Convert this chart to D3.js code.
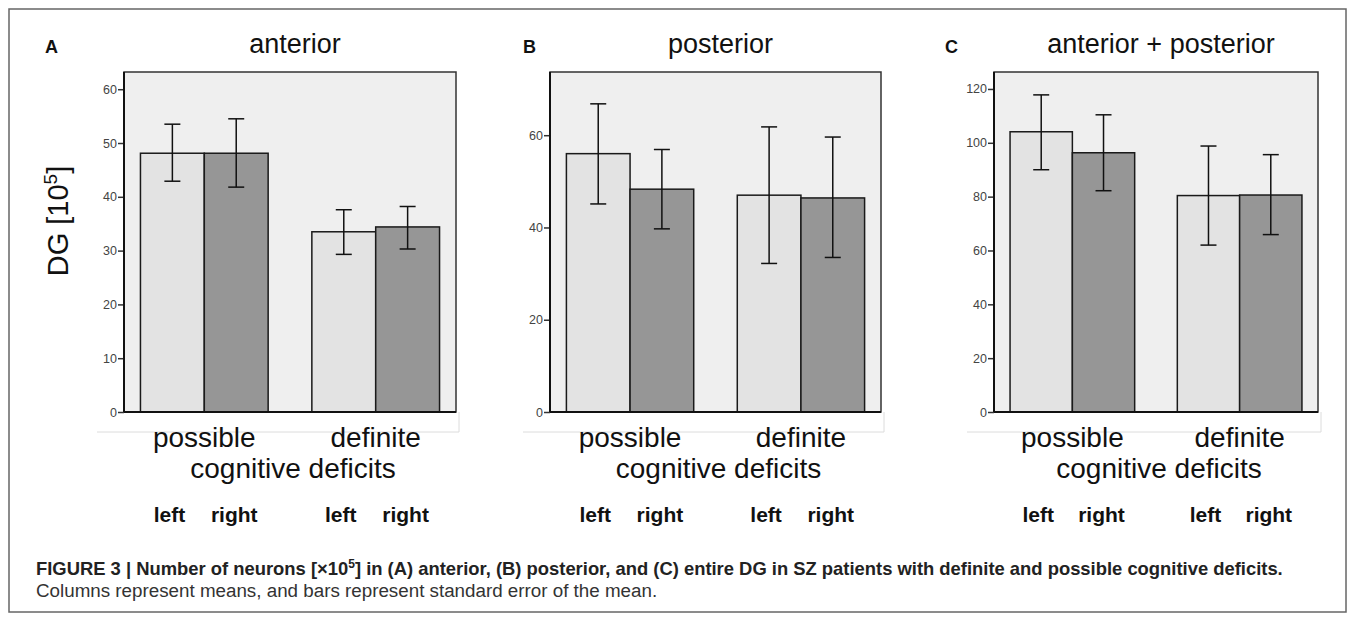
<!DOCTYPE html>
<html>
<head>
<meta charset="utf-8">
<script src="https://cdn.jsdelivr.net/npm/d3@7"></script>
<style>
  body { margin: 0; background: #fff; }
  text { font-family: "Liberation Sans", Arial, sans-serif; }
</style>
</head>
<body>
<div id="chart"></div>
<script>

// categories and groups
const categories = ["possible", "definite"];
const sides = ["left", "right"];
const panelTitles = ["anterior", "posterior", "anterior + posterior"];
const panelLetters = ["A", "B", "C"];

// means and error bar ends, order: possible-left, possible-right, definite-left, definite-right
const anteriorMean = [48.1, 48.1, 33.5, 34.4];
const anteriorLow = [42.9, 41.8, 29.3, 30.3];
const anteriorHigh = [53.5, 54.5, 37.6, 38.2];

const posteriorMean = [56.0, 48.3, 47.0, 46.4];
const posteriorLow = [45.1, 39.7, 32.2, 33.5];
const posteriorHigh = [66.8, 56.9, 61.8, 59.6];

const totalMean = [104.1, 96.3, 80.4, 80.6];
const totalLow = [90.0, 82.2, 62.0, 65.9];
const totalHigh = [117.8, 110.4, 98.8, 95.6];

// y axes
const yMax = [63.2, 73.7, 126.3];
const yTicks = [
  [0, 10, 20, 30, 40, 50, 60],
  [0, 20, 40, 60],
  [0, 20, 40, 60, 80, 100, 120]
];

const W = 1355, H = 624;
const plotTop = 72, plotBottom = 412;
const plotLeft = [124, 550, 994];
const plotRight = [456, 881, 1318];
const letterX = [45, 523, 945];

const barFill = { left: "#e3e3e3", right: "#969696" };

const svg = d3.select("#chart")
  .append("svg")
  .attr("width", W)
  .attr("height", H);

// figure frame
svg.append("rect")
  .attr("x", 9).attr("y", 9)
  .attr("width", 1337).attr("height", 603)
  .attr("fill", "none")
  .attr("stroke", "#666")
  .attr("stroke-width", 1.5);

const series = [
  { mean: anteriorMean, low: anteriorLow, high: anteriorHigh },
  { mean: posteriorMean, low: posteriorLow, high: posteriorHigh },
  { mean: totalMean, low: totalLow, high: totalHigh }
];

series.forEach(function (s, p) {
  const g = svg.append("g");
  const x0 = plotLeft[p], x1 = plotRight[p];

  let y = d3.scaleLinear().domain([0, yMax[p]]).range([plotBottom, plotTop]);
  let xCat = d3.scaleBand().domain(categories).range([x0, x1])
    .paddingInner(0.255).paddingOuter(0.096);
  let xSide = d3.scaleBand().domain(sides).range([0, xCat.bandwidth()]);

  // faint outer chart box
  g.append("path")
    .attr("d", "M" + (x0 - 27) + "," + 432 + "H" + (x1 + 3) + "V" + plotBottom)
    .attr("fill", "none")
    .attr("stroke", "#dcdcdc")
    .attr("stroke-width", 1);

  // plot background
  g.append("rect")
    .attr("x", x0).attr("y", plotTop)
    .attr("width", x1 - x0).attr("height", plotBottom - plotTop)
    .attr("fill", "#efefef")
    .attr("stroke", "#333")
    .attr("stroke-width", 1.5);

  const rows = [];
  categories.forEach(function (c, i) {
    sides.forEach(function (sd, j) {
      const k = i * 2 + j;
      rows.push({ cat: c, side: sd, mean: s.mean[k], low: s.low[k], high: s.high[k] });
    });
  });

  // bars
  g.selectAll("rect.bar")
    .data(rows)
    .enter()
    .append("rect")
    .attr("class", "bar")
    .attr("x", d => xCat(d.cat) + xSide(d.side))
    .attr("y", d => y(d.mean))
    .attr("width", xSide.bandwidth())
    .attr("height", d => y(0) - y(d.mean))
    .attr("fill", d => barFill[d.side])
    .attr("stroke", "#1a1a1a")
    .attr("stroke-width", 1.5);

  // error bars
  const cx = d => xCat(d.cat) + xSide(d.side) + xSide.bandwidth() / 2;
  const eb = g.selectAll("g.err").data(rows).enter().append("g").attr("class", "err")
    .attr("stroke", "#111").attr("stroke-width", 1.5);
  eb.append("line")
    .attr("x1", cx).attr("x2", cx)
    .attr("y1", d => y(d.low)).attr("y2", d => y(d.high));
  eb.append("line")
    .attr("x1", d => cx(d) - 8).attr("x2", d => cx(d) + 8)
    .attr("y1", d => y(d.high)).attr("y2", d => y(d.high));
  eb.append("line")
    .attr("x1", d => cx(d) - 8).attr("x2", d => cx(d) + 8)
    .attr("y1", d => y(d.low)).attr("y2", d => y(d.low));

  // y axis
  const ax = g.append("g")
    .attr("transform", "translate(" + x0 + ",0)")
    .call(d3.axisLeft(y).tickValues(yTicks[p]).tickSize(6).tickPadding(1).tickFormat(d3.format("d")));
  ax.select(".domain").remove();
  ax.selectAll(".tick line").attr("stroke", "#333").attr("stroke-width", 1.5);
  ax.selectAll(".tick text")
    .attr("fill", "#444")
    .style("font-size", "12.5px")
    .style("font-family", "'Liberation Sans', Arial, sans-serif");

  // axis lines
  g.append("line")
    .attr("x1", x0).attr("x2", x0).attr("y1", plotTop).attr("y2", plotBottom)
    .attr("stroke", "#111").attr("stroke-width", 2);
  g.append("line")
    .attr("x1", x0).attr("x2", x1).attr("y1", plotBottom).attr("y2", plotBottom)
    .attr("stroke", "#111").attr("stroke-width", 2);

  // category labels
  g.selectAll("text.cat")
    .data(categories)
    .enter()
    .append("text")
    .attr("class", "cat")
    .attr("x", d => xCat(d) + xCat.bandwidth() / 2)
    .attr("y", 447)
    .attr("text-anchor", "middle")
    .style("font-size", "28px")
    .attr("fill", "#111")
    .text(d => d);

  const mid = (xCat(categories[0]) + xCat(categories[1]) + xCat.bandwidth()) / 2;
  g.append("text")
    .attr("x", mid + 3)
    .attr("y", 478)
    .attr("text-anchor", "middle")
    .style("font-size", "28px")
    .attr("fill", "#111")
    .text("cognitive deficits");

  // left / right labels
  g.selectAll("text.side")
    .data(rows)
    .enter()
    .append("text")
    .attr("class", "side")
    .attr("x", d => cx(d) + (d.side === "left" ? -3 : -2))
    .attr("y", 522)
    .attr("text-anchor", "middle")
    .style("font-size", "21px")
    .style("font-weight", "bold")
    .attr("fill", "#111")
    .text(d => d.side);

  // title and panel letter
  g.append("text")
    .attr("x", (x0 + x1) / 2 + 5)
    .attr("y", 53)
    .attr("text-anchor", "middle")
    .style("font-size", "27px")
    .attr("fill", "#111")
    .text(panelTitles[p]);
  g.append("text")
    .attr("x", letterX[p])
    .attr("y", 53)
    .style("font-size", "18px")
    .style("font-weight", "bold")
    .attr("fill", "#111")
    .text(panelLetters[p]);
});

// y label
const yl = svg.append("text")
  .attr("transform", "translate(68,221) rotate(-90)")
  .attr("text-anchor", "middle")
  .style("font-size", "29px")
  .attr("fill", "#111");
yl.append("tspan").text("DG [10");
yl.append("tspan").attr("dy", -11).style("font-size", "19px").text("5");
yl.append("tspan").attr("dy", 11).text("]");

// caption
const cap = svg.append("text")
  .attr("x", 36).attr("y", 575)
  .style("font-size", "18.4px")
  .style("font-weight", "bold")
  .attr("fill", "#222");
cap.append("tspan").text("FIGURE 3 | Number of neurons [\u00d710");
cap.append("tspan").attr("dy", -7).style("font-size", "12px").text("5");
cap.append("tspan").attr("dy", 7).text("] in (A) anterior, (B) posterior, and (C) entire DG in SZ patients with definite and possible cognitive deficits.");

svg.append("text")
  .attr("x", 36).attr("y", 597)
  .style("font-size", "18.8px")
  .attr("fill", "#333")
  .text("Columns represent means, and bars represent standard error of the mean.");

</script>
</body>
</html>
